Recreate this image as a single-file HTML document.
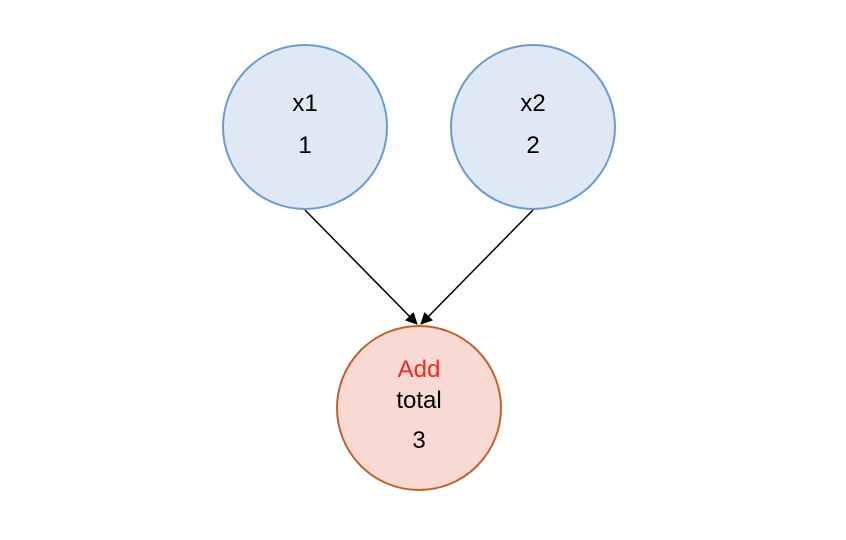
<!DOCTYPE html>
<html><head><meta charset="utf-8"><style>
html,body{margin:0;padding:0;background:#fff;}
svg{display:block;}
text{font-family:"Liberation Sans",sans-serif;font-size:24px;text-anchor:middle;fill:#000;}
</style></head><body>
<svg width="846" height="540" viewBox="0 0 846 540">
<defs>
<marker id="ah" markerWidth="12" markerHeight="12" refX="11" refY="6" orient="auto" markerUnits="userSpaceOnUse">
<path d="M0,0 L12,6 L0,12 z" fill="#000"/>
</marker>
</defs>
<line x1="305" y1="210" x2="417" y2="324" stroke="#000" stroke-width="1.5" marker-end="url(#ah)"/>
<line x1="533" y1="210" x2="421" y2="324" stroke="#000" stroke-width="1.5" marker-end="url(#ah)"/>
<g>
<circle cx="305" cy="127" r="82" fill="#dfe9f5" stroke="#6b9bd2" stroke-width="2"/>
<text x="305" y="111">x1</text>
<text x="305" y="153">1</text>
</g>
<g>
<circle cx="533" cy="127" r="82" fill="#dfe9f5" stroke="#6b9bd2" stroke-width="2"/>
<text x="533" y="111">x2</text>
<text x="533" y="153">2</text>
</g>
<g>
<circle cx="419" cy="408" r="82" fill="#f9d9d4" stroke="#c0622c" stroke-width="2"/>
<text x="419" y="377" style="fill:#ee2a24">Add</text>
<text x="419" y="408">total</text>
<text x="419" y="448">3</text>
</g>
</svg>
</body></html>
